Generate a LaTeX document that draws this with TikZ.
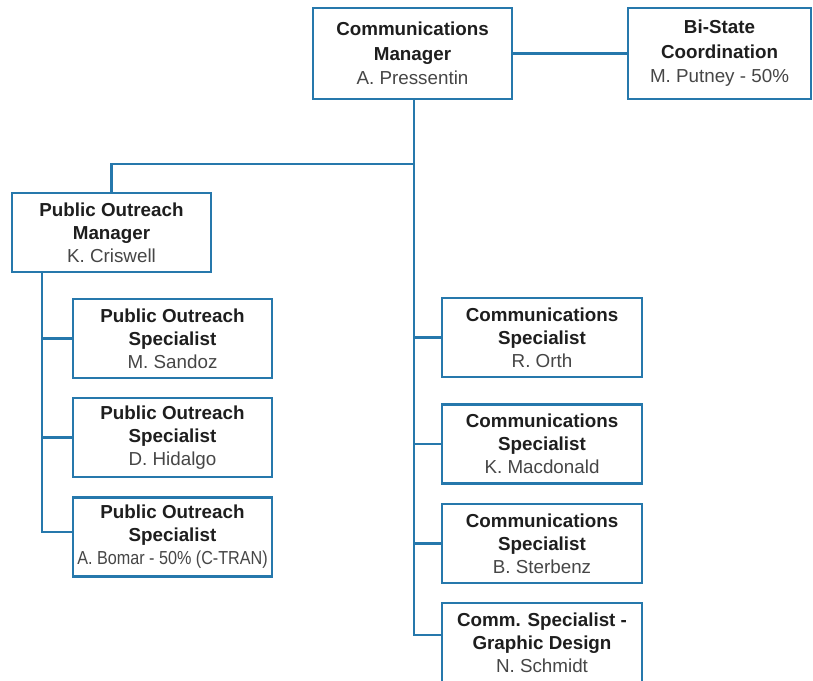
\documentclass[tikz,border=0pt]{standalone}
\usepackage{fontspec}
\setmainfont{Liberation Sans}
\definecolor{orgblue}{RGB}{38,120,172}
\definecolor{titlecol}{RGB}{30,30,30}
\definecolor{namecol}{RGB}{70,70,70}
\newcommand{\ttl}[1]{{\bfseries\color{titlecol}#1}}
\newcommand{\nm}[1]{{\color{namecol}#1}}
\begin{document}
\begin{tikzpicture}[x=1pt,y=-1pt,
  box/.style={draw=orgblue,line width=2.5pt,fill=white,rectangle,inner sep=0pt,
    minimum width=199pt,minimum height=79pt,align=center,
    font=\fontsize{18.8}{23}\selectfont},
  topbox/.style={box,minimum height=91pt,font=\fontsize{18.8}{24.5}\selectfont},
  link/.style={draw=orgblue,line width=2.5pt}]
\useasboundingbox (0,0) rectangle (813,680);
\clip (0,0) rectangle (813,680);
% nodes
\node[topbox] (cm) at (412.5,53.5) {\ttl{Communications}\\\ttl{Manager}\\\nm{A. Pressentin}};
\node[topbox,minimum width=183pt] (bs) at (719.5,53.5) {\ttl{Bi-State}\\\ttl{Coordination}\\\nm{M. Putney - 50\%}};
\node[box] (pom) at (111.5,232.5) {\ttl{Public Outreach}\\\ttl{Manager}\\\nm{K. Criswell}};
\node[box] (ps1) at (172.5,338.5) {\ttl{Public Outreach}\\\ttl{Specialist}\\\nm{M. Sandoz}};
\node[box] (ps2) at (172.5,437.5) {\ttl{Public Outreach}\\\ttl{Specialist}\\\nm{D. Hidalgo}};
\node[box] (ps3) at (172.5,537) {\ttl{Public Outreach}\\\ttl{Specialist}\\\nm{\scalebox{0.86}[1]{A. Bomar - 50\% (C-TRAN)}}};
\node[box,minimum width=200pt] (cs1) at (542,337.5) {\ttl{Communications}\\\ttl{Specialist}\\\nm{R. Orth}};
\node[box,minimum width=200pt] (cs2) at (542,444) {\ttl{Communications}\\\ttl{Specialist}\\\nm{K. Macdonald}};
\node[box,minimum width=200pt] (cs3) at (542,543.5) {\ttl{Communications}\\\ttl{Specialist}\\\nm{B. Sterbenz}};
\node[box,minimum width=200pt] (cs4) at (542,642.5) {\ttl{Comm. Specialist -}\\\ttl{Graphic Design}\\\nm{N. Schmidt}};
% junction coordinates
\coordinate (cmx) at ([xshift=1.5pt]cm.south);
\coordinate (pomx) at (pom.north);
\coordinate (jtop) at (cmx |- 0,164);
\coordinate (pomleft) at ([xshift=-69.5pt]pom.south);
% connectors
\draw[link] (cm.east) -- (bs.west);
\draw[link] (cmx) -- ([yshift=7.5pt]cmx |- cs4.west) -- ([yshift=7.5pt]cs4.west);
\draw[link] (jtop) -| (pomx);
\draw[link] (cmx |- cs1.west) -- (cs1.west);
\draw[link] (cmx |- cs2.west) -- (cs2.west);
\draw[link] (cmx |- cs3.west) -- (cs3.west);
\draw[link] (pomleft) -- ([yshift=5pt]pomleft |- ps3.west) -- ([yshift=5pt]ps3.west);
\draw[link] (pomleft |- ps1.west) -- (ps1.west);
\draw[link] (pomleft |- ps2.west) -- (ps2.west);
\end{tikzpicture}
\end{document}
